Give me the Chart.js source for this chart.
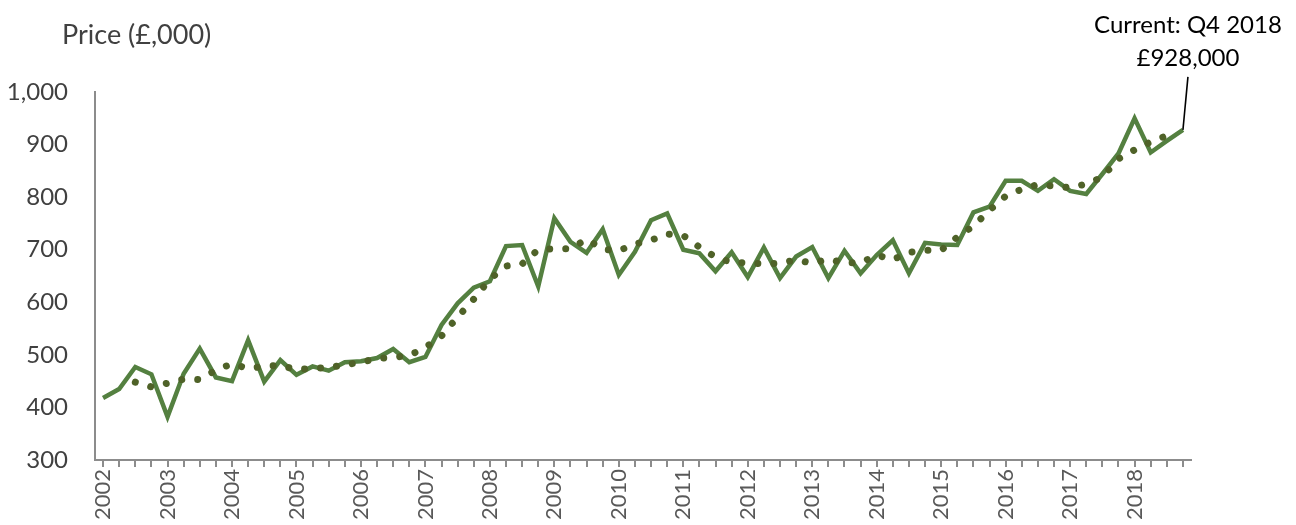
<!DOCTYPE html>
<html>
<head>
<meta charset="utf-8">
<script src="https://cdn.jsdelivr.net/npm/chart.js@4.4.1/dist/chart.umd.min.js"></script>
<style>
  body { margin: 0; background: #fff; }
  canvas { display: block; }
</style>
</head>
<body>
<canvas id="myChart" width="1296" height="525"></canvas>
<script>
/******* data *********/
const years = ['2002','2003','2004','2005','2006','2007','2008','2009','2010',
    '2011','2012','2013','2014','2015','2016','2017','2018'];
const quarters = ['Q1','Q2','Q3','Q4'];
// average price per quarter, £000
const price = [
    418, 435, 477, 463,   382, 464, 512, 457,   450, 528, 449, 490,   462, 478, 470, 486,
    488, 494, 511, 486,   496, 557, 598, 628,   640, 707, 709, 630,   760, 715, 694, 739,
    652, 696, 756, 769,   700, 693, 659, 695,   648, 704, 646, 687,   705, 646, 698, 655,
    690, 718, 655, 713,   710, 709, 771, 782,   831, 831, 812, 834,   812, 806, 844, 883,
    950, 885, 907, 928
];
// 4 quarter moving average (dotted)
const trend = [
    null, null, 448, 439,   446, 454, 453, 471,   483, 474, 478, 480,   472, 474, 476, 481,
    486, 493, 495, 499,     514, 536, 572, 606,   644, 669, 673, 700,   702, 702, 720, 701,
    698, 711, 718, 730,     727, 705, 686, 676,   675, 673, 674, 681,   674, 682, 675, 675,
    690, 681, 695, 699,     699, 724, 745, 775,   802, 815, 824, 821,   818, 825, 838, 873,
    890, 905, 917, null
];
const yTicks = [300, 400, 500, 600, 700, 800, 900, 1000];
const calloutLines = ['Current: Q4 2018', '£928,000'];

const labels = [];
years.forEach(y => quarters.forEach(q => labels.push(q + ' ' + y)));

/******* extra drawing: axis title + callout *******/
const extras = {
    id: 'extras',
    afterDraw(chart) {
        const c = chart.ctx;
        c.save();
        c.fillStyle = '#404040';
        c.font = '27px Lato';
        c.textBaseline = 'middle';
        c.textAlign = 'left';
        c.fillText('Price (£,000)', chart.chartArea.left - 33, 35);

        // callout on the last point
        const xs = chart.scales.x, ys = chart.scales.y;
        const last = price.length - 1;
        const px = xs.getPixelForValue(last);
        const py = ys.getPixelForValue(price[last]);
        c.strokeStyle = '#000';
        c.lineWidth = 1.6;
        c.beginPath();
        c.moveTo(px, py);
        c.lineTo(px + 5, py - 53);
        c.stroke();
        c.fillStyle = '#000';
        c.textAlign = 'center';
        c.font = '24px Lato';
        c.fillText(calloutLines[0], px + 5, py - 105);
        c.fillText(calloutLines[1], px + 5, py - 72);
        c.restore();
    }
};

/******* chart creator *******/
const ctx = document.getElementById('myChart').getContext('2d');
const myChart = new Chart(ctx, {
    type: 'line',
    data: {
        labels: labels,
        datasets: [{
            data: price,
            borderColor: '#548040',
            borderWidth: 4.5,
            pointRadius: 0,
            tension: 0,
            order: 1
        }, {
            data: trend,
            borderColor: '#4F6228',
            borderWidth: 7,
            borderDash: [0.01, 16],
            borderCapStyle: 'round',
            pointRadius: 0,
            tension: 0,
            spanGaps: false,
            order: 0
        }]
    },
    options: {
        responsive: false,
        animation: false,
        layout: { padding: { top: 92, right: 105, left: 0, bottom: 0 } },
        plugins: {
            legend: { display: false },
            tooltip: { enabled: false }
        },
        scales: {
            x: {
                offset: true,
                grid: {
                    display: true,
                    drawOnChartArea: false,
                    drawTicks: true,
                    tickLength: 7,
                    color: '#8c8c8c',
                    lineWidth: 2
                },
                border: { display: true, color: '#8c8c8c', width: 2 },
                ticks: {
                    autoSkip: false,
                    maxRotation: 90,
                    minRotation: 90,
                    padding: 2,
                    color: '#595959',
                    font: { family: 'Lato', size: 22 },
                    callback: (val, i) => i % 4 === 0 ? years[i / 4] : ''
                },
                afterFit: (scale) => { scale.height = 65; }
            },
            y: {
                min: yTicks[0],
                max: yTicks[yTicks.length - 1],
                afterBuildTicks: (scale) => { scale.ticks = yTicks.map(v => ({ value: v })); },
                grid: { display: false, drawTicks: false },
                border: { display: true, color: '#8c8c8c', width: 2 },
                ticks: {
                    padding: 27,
                    color: '#404040',
                    font: { family: 'Lato', size: 24 },
                    callback: (v) => v.toLocaleString('en-GB')
                },
                afterFit: (scale) => { scale.width = 95; }
            }
        }
    },
    plugins: [extras]
});
</script>
</body>
</html>
